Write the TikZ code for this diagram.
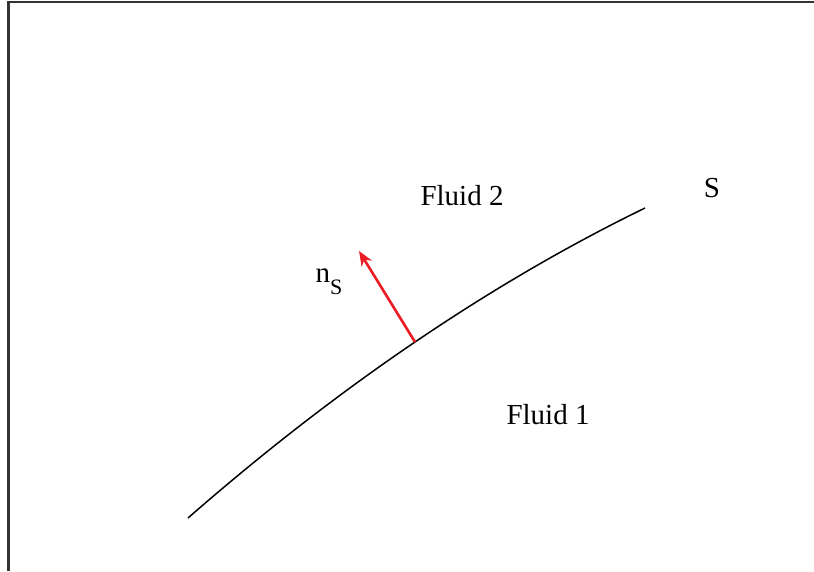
\documentclass[tikz,border=0pt]{standalone}
\usepackage{fontspec}
\setmainfont{Liberation Serif}
\usetikzlibrary{arrows.meta}
\definecolor{Frame}{HTML}{333333}
\definecolor{NormalRed}{HTML}{EC1C24}
\tikzset{
  lbl/.style={font=\fontsize{29}{34}\selectfont,text=black,inner sep=0pt},
}
\begin{document}
\begin{tikzpicture}[x=1pt,y=-1pt]
        \useasboundingbox (0,0) rectangle (814,571);
        \draw[Frame,line width=2.2pt] (8.5,571) -- (8.5,1.8) -- (814,1.8);
        % interface
        \coordinate (s0) at (188,518);
        \coordinate (s1) at (645,208);
        \coordinate (foot) at (415,342);
        \coordinate (tip) at (359,251);
        \draw[black,line width=1.5pt] (s0) .. controls (338,387) and (491,283) .. (s1);
        \draw[-{Stealth[length=15pt,width=12pt,inset=5pt]},NormalRed,line width=2.6pt]
              (foot) -- (tip);
        \node[lbl] (fluid2) at (462,196) {Fluid 2};
        \node[lbl] (fluid1) at (548,415) {Fluid 1};
        \node[lbl] (surf) at (712,188) {S};
        \node[lbl] (normal) at (329,282)
              {n\raisebox{-0.42em}{\fontsize{22}{26}\selectfont S}};
      \end{tikzpicture}
\end{document}
